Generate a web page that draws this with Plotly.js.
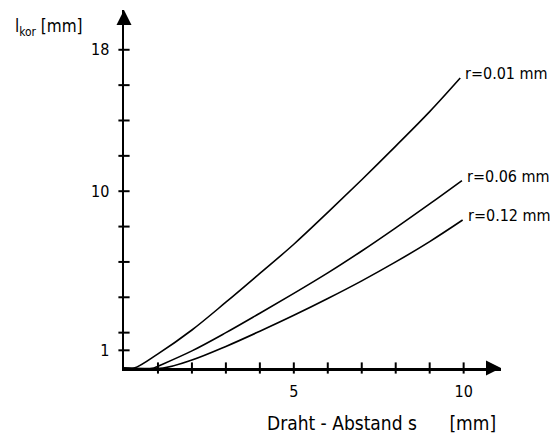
<!DOCTYPE html>
<html>
<head>
<meta charset="utf-8">
<script src="https://cdn.plot.ly/plotly-3.0.1.min.js"></script>
<style>html,body{margin:0;padding:0;background:#fff;}#chart{width:555px;height:436px;}</style>
</head>
<body>
<div id="chart"></div>
<script>
// Data (s in mm, l_kor in mm)
const seriesNames = ['r=0.01 mm', 'r=0.06 mm', 'r=0.12 mm'];
const s001 = [0, 0.3, 1, 2, 3, 4, 5, 6, 7, 8, 9, 9.9];
const l001 = [0, 0, 0.8, 2.15, 3.72, 5.35, 7.0, 8.8, 10.65, 12.55, 14.5, 16.4];
const s006 = [0, 0.88, 1, 2, 3, 4, 5, 6, 7, 8, 9, 9.95];
const l006 = [0, 0, 0.1, 0.97, 2.0, 3.1, 4.22, 5.38, 6.62, 7.93, 9.28, 10.6];
const s012 = [0, 1.15, 2, 3, 4, 5, 6, 7, 8, 9, 9.97];
const l012 = [0, 0, 0.45, 1.22, 2.08, 2.98, 3.93, 4.93, 6.0, 7.15, 8.37];

const xTickVals = [1, 2, 3, 4, 5, 6, 7, 8, 9, 10];
const xTickText = ['', '', '', '', '5', '', '', '', '', '10'];
const yTickVals = [1, 2, 4, 6, 8, 10, 12, 14, 16, 18];
const yTickText = ['1', '', '', '', '', '10', '', '', '', '18'];

const xTitle = 'Draht - Abstand s&nbsp;&nbsp;&nbsp;&nbsp;&nbsp;&nbsp;[mm]';
const yTitle = 'l<sub>kor</sub> [mm]';

const FONT = "'Liberation Sans Narrow', 'DejaVu Sans Condensed', 'DejaVu Sans', sans-serif";
const xs = [s001, s006, s012];
const ys = [l001, l006, l012];

const traces = xs.map((x, i) => ({
  x: x, y: ys[i], type: 'scatter', mode: 'lines',
  line: {color: '#000', width: 1.6, shape: 'spline', smoothing: 1.0},
  name: seriesNames[i], hoverinfo: 'skip', cliponaxis: true
}));
// crossing tick marks on the axes
traces.push({
  x: xTickVals, y: xTickVals.map(() => 0), type: 'scatter', mode: 'markers',
  marker: {symbol: 'line-ns', size: 8, line: {color: '#000', width: 2}},
  cliponaxis: false, hoverinfo: 'skip'
});
traces.push({
  x: yTickVals.map(() => 0), y: yTickVals, type: 'scatter', mode: 'markers',
  marker: {symbol: 'line-ew', size: 8, line: {color: '#000', width: 2}},
  cliponaxis: false, hoverinfo: 'skip'
});

const annotations = xs.map((x, i) => ({
  x: x[x.length - 1], y: ys[i][ys[i].length - 1], xref: 'x', yref: 'y',
  text: seriesNames[i], showarrow: false, xanchor: 'left', yanchor: 'bottom',
  xshift: 3, yshift: -7, font: {family: FONT, size: 16, color: '#000'}
}));
annotations.push({
  x: 0.684, y: 0, xref: 'paper', yref: 'paper', yshift: -55,
  text: xTitle, showarrow: false, xanchor: 'center', yanchor: 'middle',
  font: {family: FONT, size: 19, color: '#000'}
});
annotations.push({
  x: -0.295, y: 1, xref: 'paper', yref: 'paper', yshift: -17,
  text: yTitle, showarrow: false, xanchor: 'left', yanchor: 'middle',
  font: {family: FONT, size: 17, color: '#000'}
});
// axis arrowheads
annotations.push({
  x: 11.1, y: 0, xref: 'x', yref: 'y', ax: -14, ay: 0, showarrow: true,
  arrowhead: 2, arrowsize: 1.2, arrowwidth: 2.5, arrowcolor: '#000', text: ''
});
annotations.push({
  x: 0, y: 20.25, xref: 'x', yref: 'y', ax: 0, ay: 14, showarrow: true,
  arrowhead: 2, arrowsize: 1.2, arrowwidth: 2.5, arrowcolor: '#000', text: ''
});

const layout = {
  width: 555, height: 436,
  margin: {l: 124, r: 54, t: 10, b: 68},
  paper_bgcolor: '#fff', plot_bgcolor: '#fff',
  showlegend: false,
  font: {family: FONT, color: '#000', size: 16},
  xaxis: {
    range: [0, 11.1], showgrid: false, zeroline: false,
    showline: true, linecolor: '#000', linewidth: 2.5,
    tickmode: 'array', tickvals: xTickVals, ticktext: xTickText,
    ticks: 'outside', ticklen: 7, tickcolor: 'rgba(0,0,0,0)',
    tickfont: {family: FONT, size: 16, color: '#000'}, fixedrange: true
  },
  yaxis: {
    range: [0, 20.25], showgrid: false, zeroline: false,
    showline: true, linecolor: '#000', linewidth: 2.5,
    tickmode: 'array', tickvals: yTickVals, ticktext: yTickText,
    ticks: 'outside', ticklen: 9, tickcolor: 'rgba(0,0,0,0)',
    tickfont: {family: FONT, size: 16, color: '#000'}, fixedrange: true
  },
  annotations: annotations
};

Plotly.newPlot('chart', traces, layout, {displayModeBar: false, staticPlot: true});
</script>
</body>
</html>
